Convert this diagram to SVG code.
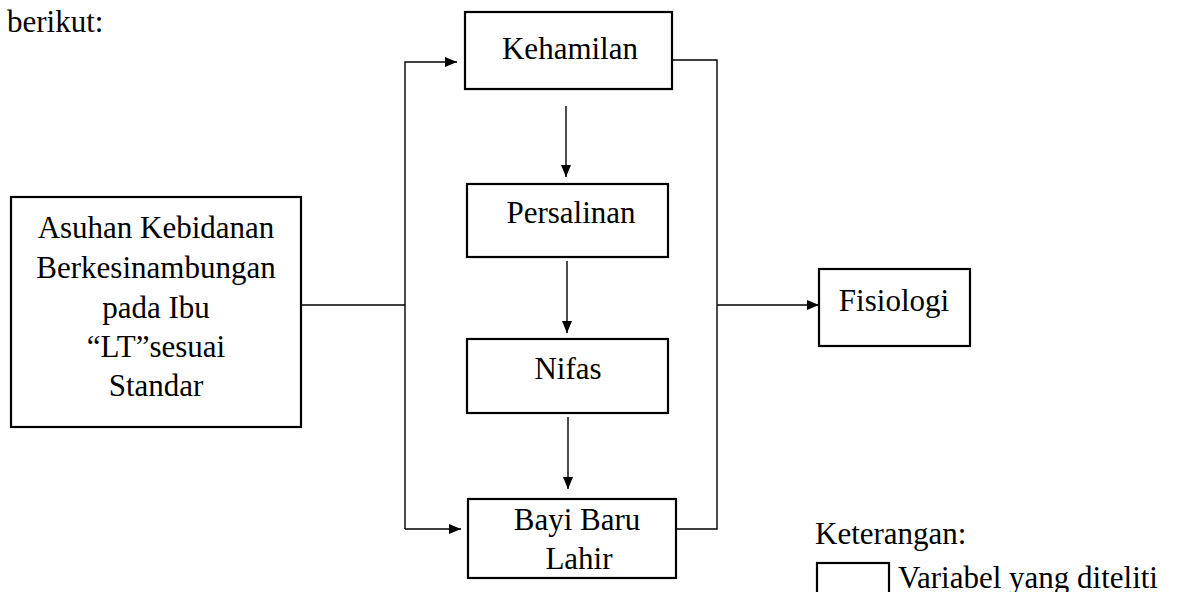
<svg xmlns="http://www.w3.org/2000/svg" width="1186" height="592" viewBox="0 0 1186 592">
<style>
.box{fill:#fff;stroke:#000;stroke-width:2.2}
.t{font-family:"Liberation Serif",serif;font-size:31px;fill:#000;text-anchor:middle}
.tl{font-family:"Liberation Serif",serif;font-size:31px;fill:#000}
.c{fill:none;stroke:#000;stroke-width:1.4}
</style>
<defs>
<marker id="ah" viewBox="0 0 12 10" refX="12" refY="5" markerWidth="12" markerHeight="10" markerUnits="userSpaceOnUse" orient="auto">
<path d="M0,0 L12,5 L0,10 Z" fill="#000"/>
</marker>
</defs>
<text class="tl" x="7" y="32">berikut:</text>
<g id="connectors">
<path class="c" d="M301,305 H405"/>
<path class="c" d="M405,529 V62 H457" marker-end="url(#ah)"/>
<path class="c" d="M405,529 H461" marker-end="url(#ah)"/>
<path class="c" d="M667,60 H717 V529 H670"/>
<path class="c" d="M717,305 H819" marker-end="url(#ah)"/>
<path class="c" d="M566,106 V177" marker-end="url(#ah)"/>
<path class="c" d="M567,261 V333" marker-end="url(#ah)"/>
<path class="c" d="M568,417 V489" marker-end="url(#ah)"/>
</g>
<g id="asuhan">
<rect class="box" x="11" y="197" width="290" height="230"/>
<text class="t" x="156" y="238">Asuhan Kebidanan</text>
<text class="t" x="156" y="278">Berkesinambungan</text>
<text class="t" x="156" y="318">pada Ibu</text>
<text class="t" x="156" y="357">“LT”sesuai</text>
<text class="t" x="156" y="396">Standar</text>
</g>
<g id="kehamilan">
<rect class="box" x="465" y="12" width="207" height="77"/>
<text class="t" x="570" y="59">Kehamilan</text>
</g>
<g id="persalinan">
<rect class="box" x="467" y="184" width="201" height="73"/>
<text class="t" x="571" y="223">Persalinan</text>
</g>
<g id="nifas">
<rect class="box" x="467" y="339" width="201" height="74"/>
<text class="t" x="568" y="379">Nifas</text>
</g>
<g id="bayi">
<rect class="box" x="468" y="499" width="208" height="79"/>
<text class="t" x="577" y="530">Bayi Baru</text>
<text class="t" x="579" y="569">Lahir</text>
</g>
<g id="fisiologi">
<rect class="box" x="819" y="269" width="151" height="77"/>
<text class="t" x="894" y="311">Fisiologi</text>
</g>
<g id="legend">
<text class="tl" x="815" y="544">Keterangan:</text>
<rect class="box" x="817" y="563" width="72" height="36"/>
<text class="tl" x="898" y="588">Variabel yang diteliti</text>
</g>
</svg>
